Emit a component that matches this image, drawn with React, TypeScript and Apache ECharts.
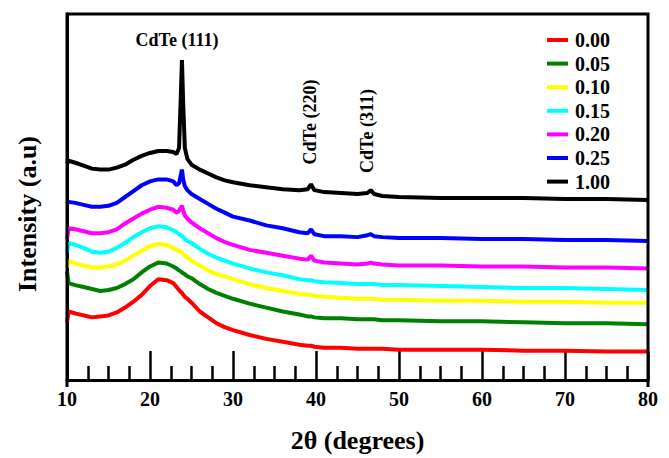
import React, { useEffect, useRef } from "react";
import * as echarts from "echarts";

// 2θ sample positions (degrees)
const twoTheta = [10, 10.2, 11, 12, 13, 14, 15, 16, 17, 18, 19, 20, 21, 22, 22.8, 23.2, 23.5, 23.7, 23.85, 24.0, 24.2, 24.5, 25, 26, 27, 28, 29, 30, 32, 34, 36, 38, 39.0, 39.4, 39.8, 41, 43, 45, 46.2, 46.6, 47.0, 48, 50, 55, 60, 65, 70, 75, 80];

// Intensities (a.u., stacked offsets as drawn)
const s000 = [59, 70, 68, 66, 64, 65, 66, 69, 74, 80, 87, 96, 103, 102, 99, 95, 92, 90, 89, 87, 85, 83, 79, 70, 64, 58, 54, 51, 46, 42, 39, 36, 35, 35, 34, 33, 33, 32, 32, 32, 32, 32, 31, 31, 31, 30, 30, 29, 29];
const s005 = [111, 99, 97, 95, 93, 91, 92, 94, 98, 103, 110, 116, 120, 119, 116, 114, 112, 111, 110, 109, 108, 106, 104, 98, 93, 89, 86, 83, 78, 74, 70, 67, 65, 65, 64, 63, 63, 62, 62, 62, 62, 61, 61, 60, 60, 59, 58, 58, 57];
const s010 = [115, 122, 119, 117, 115, 115, 116, 118, 122, 127, 132, 137, 139, 138, 135, 133, 132, 131, 130, 129, 127, 125, 122, 117, 112, 108, 106, 103, 98, 94, 91, 88, 87, 87, 86, 85, 84, 83, 83, 83, 83, 82, 82, 81, 81, 80, 80, 79, 79];
const s015 = [130, 140, 138, 135, 131, 130, 131, 135, 140, 146, 151, 155, 157, 156, 153, 151, 149, 148, 147, 146, 144, 142, 140, 134, 129, 125, 122, 119, 114, 110, 107, 103, 102, 102, 101, 100, 99, 98, 98, 98, 98, 97, 97, 96, 95, 94, 94, 93, 92];
const s020 = [144, 155, 154, 152, 150, 150, 151, 154, 160, 165, 170, 174, 177, 176, 174, 171, 173, 176, 178, 173, 168, 165, 161, 155, 150, 145, 141, 138, 133, 130, 127, 124, 123, 127, 122, 120, 119, 118, 119, 120, 119, 118, 117, 117, 116, 116, 115, 115, 114];
const s025 = [180, 182, 181, 179, 177, 177, 178, 181, 187, 193, 199, 203, 205, 205, 203, 199, 201, 209, 215, 205, 198, 194, 190, 185, 180, 175, 171, 167, 163, 158, 155, 151, 150, 154, 149, 147, 147, 146, 148, 149, 147, 146, 145, 145, 144, 144, 143, 143, 142];
const s100 = [221, 224, 222, 219, 216, 215, 215, 217, 220, 225, 229, 232, 234, 234, 233, 231, 237, 287, 327, 282, 237, 226, 220, 215, 211, 207, 204, 202, 199, 197, 195, 194, 195, 200, 194, 192, 191, 190, 191, 194, 190, 188, 187, 186, 186, 186, 185, 185, 184];

const seriesNames = ["0.00", "0.05", "0.10", "0.15", "0.20", "0.25", "1.00"];
const seriesColors = ["#ff0000", "#008000", "#ffff00", "#00ffff", "#ff00ff", "#0000ff", "#000000"];
const seriesValues = [s000, s005, s010, s015, s020, s025, s100];

const xTicks = { min: 10, max: 80, interval: 10 };
const yRange = { min: 0, max: 374 };
const peakLabels = ["CdTe (111)", "CdTe (220)", "CdTe (311)"];

const FONT = "'Liberation Serif', 'Times New Roman', serif";
const GRID = { left: 67, top: 14, width: 581, height: 373 };
const GR = GRID.left + GRID.width;
const GB = GRID.top + GRID.height;

export default function App() {
  const ref = useRef<HTMLDivElement>(null);
  useEffect(() => {
    if (!ref.current) return;
    const chart = echarts.init(ref.current, null, { renderer: "svg" });
    chart.setOption({
      animation: false,
      backgroundColor: "#ffffff",
      grid: {
        left: GRID.left,
        top: GRID.top,
        width: GRID.width,
        height: GRID.height,
        show: false,
      },
      legend: {
        orient: "vertical",
        left: 542,
        top: 25,
        itemWidth: 21,
        itemHeight: 4,
        itemGap: 3.6,
        icon: "rect",
        data: seriesNames,
        textStyle: {
          fontFamily: FONT,
          fontWeight: "bold",
          fontSize: 20,
          color: "#000",
          lineHeight: 20,
          padding: [0, 0, 0, 2],
        },
      },
      xAxis: {
        type: "value",
        min: xTicks.min,
        max: xTicks.max,
        interval: xTicks.interval,
        name: "2θ (degrees)",
        nameLocation: "middle",
        nameGap: 47,
        nameTextStyle: {
          fontFamily: FONT,
          fontWeight: "bold",
          fontSize: 26,
          color: "#000",
        },
        axisLine: { show: true, onZero: false, lineStyle: { color: "#000", width: 3 } },
        axisTick: {
          show: true,
          inside: true,
          length: 29,
          lineStyle: { color: "#000", width: 2.5 },
        },
        minorTick: {
          show: true,
          splitNumber: 4,
          length: 14,
          lineStyle: { color: "#000", width: 2.5 },
        },
        splitLine: { show: false },
        axisLabel: {
          margin: 9,
          fontFamily: FONT,
          fontWeight: "bold",
          fontSize: 20,
          color: "#000",
        },
      },
      yAxis: {
        type: "value",
        min: yRange.min,
        max: yRange.max,
        axisLine: { show: true, onZero: false, lineStyle: { color: "#000", width: 3 } },
        axisTick: { show: false },
        axisLabel: { show: false },
        splitLine: { show: false },
      },
      graphic: {
        elements: [
          {
            type: "polyline",
            z: 100,
            silent: true,
            shape: {
              points: [
                [GRID.left, GB],
                [GRID.left, GRID.top],
                [GR, GRID.top],
                [GR, GB],
              ],
            },
            style: { stroke: "#000000", lineWidth: 3, fill: null },
          },
          {
            type: "text",
            x: 27,
            y: 214,
            rotation: Math.PI / 2,
            style: {
              text: "Intensity (a.u)",
              font: `bold 26px ${FONT}`,
              fill: "#000",
              textAlign: "center",
              textVerticalAlign: "middle",
            },
          },
          {
            type: "text",
            x: 177,
            y: 40,
            style: {
              text: peakLabels[0],
              font: `bold 18px ${FONT}`,
              fill: "#000",
              textAlign: "center",
              textVerticalAlign: "middle",
            },
          },
          {
            type: "text",
            x: 310,
            y: 122,
            rotation: Math.PI / 2,
            style: {
              text: peakLabels[1],
              font: `bold 18px ${FONT}`,
              fill: "#000",
              textAlign: "center",
              textVerticalAlign: "middle",
            },
          },
          {
            type: "text",
            x: 367,
            y: 131,
            rotation: Math.PI / 2,
            style: {
              text: peakLabels[2],
              font: `bold 18px ${FONT}`,
              fill: "#000",
              textAlign: "center",
              textVerticalAlign: "middle",
            },
          },
        ],
      },
      series: seriesNames.map((name, k) => ({
        name,
        type: "line",
        showSymbol: false,
        symbol: "none",
        data: twoTheta.map((x, i) => [x, seriesValues[k][i]]),
        lineStyle: { color: seriesColors[k], width: 4 },
        itemStyle: { color: seriesColors[k] },
        z: 3,
      })),
    });
    return () => chart.dispose();
  }, []);
  return (
    <div
      ref={ref}
      style={{
        position: "absolute",
        left: 0,
        top: 0,
        width: 669,
        height: 458,
      }}
    />
  );
}
